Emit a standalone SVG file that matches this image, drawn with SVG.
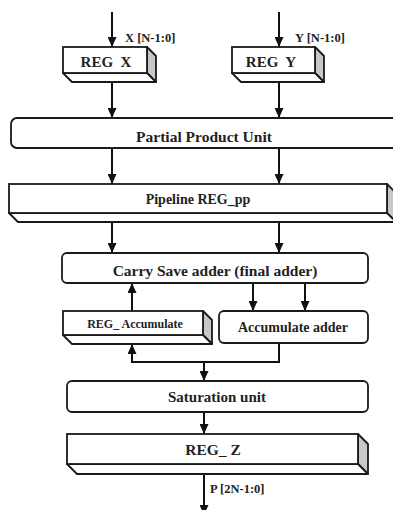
<svg xmlns="http://www.w3.org/2000/svg" width="393" height="510" viewBox="0 0 393 510">
  <style>
    .box { fill: #fff; stroke: #1a1a1a; stroke-width: 1.8; }
    .side { fill: #c8c8c8; stroke: #1a1a1a; stroke-width: 1.8; stroke-linejoin: round; }
    .bot { fill: #fff; stroke: #1a1a1a; stroke-width: 1.8; stroke-linejoin: round; }
    .wire { fill: none; stroke: #111; stroke-width: 2; }
    text { font-family: "Liberation Serif", "Times New Roman", serif; font-weight: bold; fill: #222; text-anchor: middle; }
    .lbl { text-anchor: start; font-size: 12.5px; }
  </style>
  <defs>
    <marker id="arrow" markerUnits="userSpaceOnUse" markerWidth="10" markerHeight="9" refX="10" refY="4.5" orient="auto">
      <path d="M0,0 L10,4.5 L0,9 Z" fill="#111"/>
    </marker>
  </defs>
  <rect width="393" height="510" fill="#fff"/>

  <!-- connectors -->
  <g id="connectors" class="wire" marker-end="url(#arrow)">
    <path d="M112,12 V47"/>
    <path d="M279,12 V47"/>
    <path d="M112,82 V118"/>
    <path d="M279,82 V118"/>
    <path d="M112,148 V184"/>
    <path d="M279,148 V184"/>
    <path d="M112,222 V253"/>
    <path d="M279,222 V253"/>
    <path d="M132,311 V283"/>
    <path d="M253,283 V311"/>
    <path d="M305,283 V311"/>
    <path d="M279,343 V362 H132 V344"/>
    <path d="M204,362 V381"/>
    <path d="M204,412 V434"/>
    <path d="M204,474 V515"/>
  </g>

  <g id="input-labels">
    <text class="lbl" x="125" y="42">X [N-1:0]</text>
    <text class="lbl" x="295" y="42">Y [N-1:0]</text>
    <text class="lbl" x="210" y="493" font-size="13.5">P [2N-1:0]</text>
  </g>

  <!-- input registers -->
  <g id="reg-x">
    <polygon class="side" points="147,47 156,56 156,82 147,73"/>
    <polygon class="bot" points="63,73 72,82 156,82 147,73"/>
    <rect class="box" x="63" y="47" width="84" height="26"/>
    <text x="106" y="67" font-size="15" xml:space="preserve">REG  X</text>
  </g>
  <g id="reg-y">
    <polygon class="side" points="315,47 324,56 324,82 315,73"/>
    <polygon class="bot" points="232,73 241,82 324,82 315,73"/>
    <rect class="box" x="232" y="47" width="83" height="26"/>
    <text x="271" y="67" font-size="15" xml:space="preserve">REG  Y</text>
  </g>

  <g id="partial-product-unit">
    <rect class="box" x="11" y="118" width="400" height="30" rx="6"/>
    <text x="204" y="142" font-size="15.5">Partial Product Unit</text>
  </g>

  <g id="pipeline-reg-pp">
    <polygon class="side" points="387,184 396,193 396,222 387,213"/>
    <polygon class="bot" points="9,213 18,222 396,222 387,213"/>
    <rect class="box" x="9" y="184" width="378" height="29"/>
    <text x="198" y="204" font-size="14">Pipeline REG_pp</text>
  </g>

  <g id="carry-save-adder">
    <rect class="box" x="62" y="253" width="306" height="30" rx="5"/>
    <text x="215" y="276" font-size="15.5">Carry Save adder (final adder)</text>
  </g>

  <g id="reg-accumulate">
    <polygon class="side" points="203,311 212,320 212,344 203,335"/>
    <polygon class="bot" points="63,335 72,344 212,344 203,335"/>
    <rect class="box" x="63" y="311" width="140" height="24"/>
    <text x="135" y="328" font-size="12">REG_ Accumulate</text>
  </g>

  <g id="accumulate-adder">
    <rect class="box" x="219" y="311" width="149" height="32" rx="5"/>
    <text x="293" y="332" font-size="14">Accumulate adder</text>
  </g>

  <g id="saturation-unit">
    <rect class="box" x="67" y="381" width="301" height="31" rx="5"/>
    <text x="217" y="402" font-size="15">Saturation unit</text>
  </g>

  <g id="reg-z">
    <polygon class="side" points="358,434 368,444 368,474 358,464"/>
    <polygon class="bot" points="67,464 77,474 368,474 358,464"/>
    <rect class="box" x="67" y="434" width="291" height="30"/>
    <text x="213" y="455" font-size="15.5">REG_ Z</text>
  </g>
</svg>
